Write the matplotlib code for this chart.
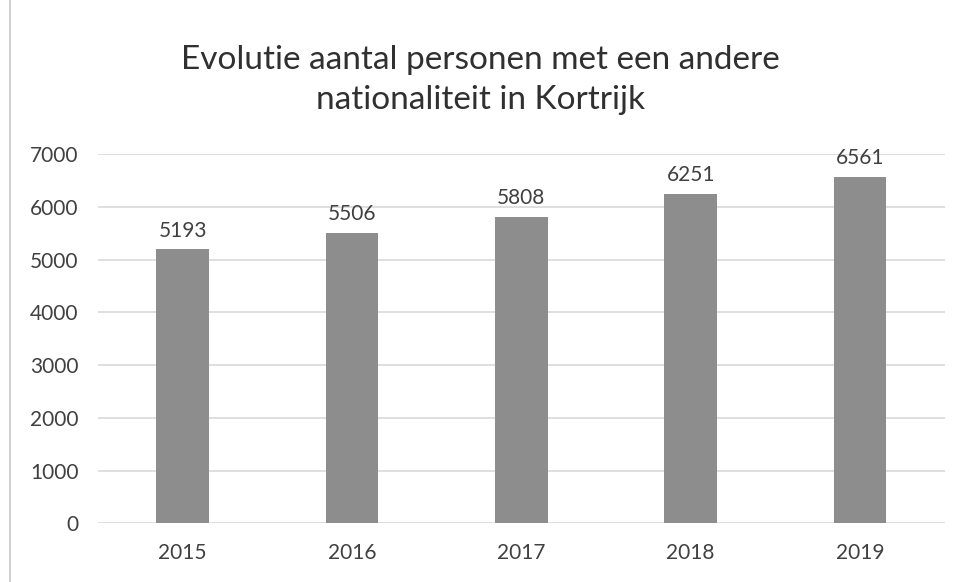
import matplotlib.pyplot as plt
import numpy as np

# Données : nombre de personnes d'une autre nationalité à Kortrijk
jaren = ["2015", "2016", "2017", "2018", "2019"]
aantal = [5193, 5506, 5808, 6251, 6561]
yticks = [0, 1000, 2000, 3000, 4000, 5000, 6000, 7000]

plt.rcParams['font.family'] = ['Lato', 'DejaVu Sans']

fig = plt.figure(figsize=(9.61, 5.82), dpi=100)
ax = fig.add_axes([0.102, 0.101, 0.881, 0.634])

x = np.arange(len(jaren))
ax.bar(x, aantal, width=0.31, color="#8d8d8d", zorder=3)

for xi, v in zip(x, aantal):
    ax.text(xi, v + 170, str(v), ha="center", va="bottom", fontsize=15, color="#404040")

ax.set_xlim(-0.5, len(jaren) - 0.5)
ax.set_ylim(0, 7000)
ax.set_yticks(yticks)
ax.set_xticks(x)
ax.set_xticklabels(jaren)
ax.tick_params(axis="both", length=0, labelsize=15, labelcolor="#404040")
ax.tick_params(axis="x", pad=14)
ax.tick_params(axis="y", pad=14)
ax.yaxis.grid(True, color="#d9d9d9", linewidth=1.2, zorder=0)
for s in ax.spines.values():
    s.set_visible(False)

fig.text(0.5, 0.863, "Evolutie aantal personen met een andere\nnationaliteit in Kortrijk",
         ha="center", va="center", fontsize=24, color="#303030", linespacing=1.4)

# bord gauche du cadre
fig.add_artist(plt.Line2D([0.01, 0.01], [0.0, 1.0], color="#c8c8c8", linewidth=1.2))

fig.savefig("out.png", dpi=100)
